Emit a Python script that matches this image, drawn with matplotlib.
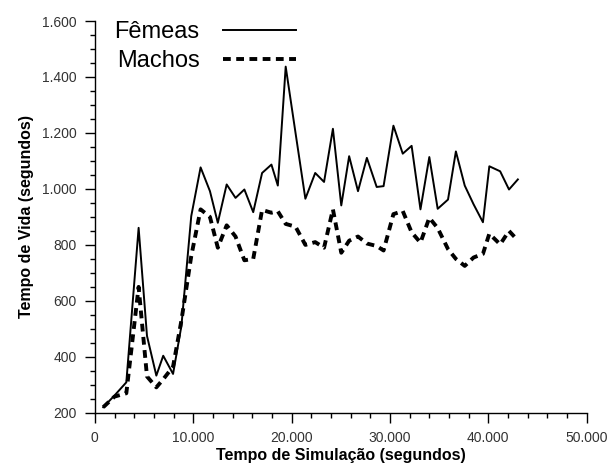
import matplotlib
matplotlib.use('Agg')
import matplotlib.pyplot as plt
from matplotlib.ticker import MultipleLocator, FuncFormatter

plt.rcParams['font.family'] = ['Liberation Sans', 'DejaVu Sans']

# tempo de simulacao (s)
tempo = [850, 2000, 3200, 4450, 5300, 6250, 6950, 7950, 8800, 9800,
         10750, 11700, 12500, 13400, 14300, 15200, 16100, 17000, 17950, 18600,
         19400, 20400, 21400, 22400, 23300, 24200, 25050, 25850, 26750, 27650,
         28650, 29350, 30350, 31300, 32200, 33100, 34000, 34850, 35900, 36700,
         37600, 38500, 39450, 40100, 41200, 42100, 43000]

femeas = [220, 262, 309, 861, 475, 333, 404, 339, 511, 903,
          1077, 992, 879, 1016, 968, 998, 917, 1057, 1087, 1012,
          1437, 1200, 965, 1057, 1025, 1215, 941, 1117, 992, 1111,
          1007, 1010, 1226, 1126, 1154, 927, 1114, 929, 962, 1134,
          1012, 945, 881, 1081, 1063, 998, 1034]

machos = [220, 258, 270, 650, 330, 291, 320, 365, 530, 760,
          927, 900, 790, 870, 830, 745, 750, 925, 915, 920,
          875, 865, 800, 810, 790, 927, 772, 815, 830, 805,
          796, 780, 910, 921, 845, 808, 897, 860, 785, 750,
          725, 755, 768, 840, 802, 850, 816]

fig = plt.figure(figsize=(6.08, 4.67), dpi=100)
ax = fig.add_axes([0.156, 0.116, 0.809, 0.839])

ax.plot(tempo, femeas, color='black', lw=1.4, label='Fêmeas')
ax.plot(tempo, machos, color='black', lw=2.8, dashes=(2.0, 1.4), label='Machos')

ax.set_xlim(0, 50000)
ax.set_ylim(200, 1600)
ax.xaxis.set_major_locator(MultipleLocator(10000))
ax.xaxis.set_minor_locator(MultipleLocator(2000))
ax.yaxis.set_major_locator(MultipleLocator(200))
ax.yaxis.set_minor_locator(MultipleLocator(50))

fmt = FuncFormatter(lambda v, p: f"{v:,.0f}".replace(",", "."))
ax.xaxis.set_major_formatter(fmt)
ax.yaxis.set_major_formatter(fmt)

for s in ['top', 'right']:
    ax.spines[s].set_visible(False)
for s in ['left', 'bottom']:
    ax.spines[s].set_linewidth(1.0)

ax.tick_params(which='major', direction='out', length=7, width=1.0,
               labelsize=10, colors='black', pad=6)
ax.tick_params(which='minor', direction='out', length=3.6, width=1.0)
for t in ax.get_xticklabels() + ax.get_yticklabels():
    t.set_color('#333333')

ax.set_xlabel('Tempo de Simulação (segundos)', fontsize=11.5, fontweight='bold', labelpad=2)
ax.set_ylabel('Tempo de Vida (segundos)', fontsize=11.5, fontweight='bold', labelpad=6)

ax.legend(loc='upper left', bbox_to_anchor=(0.04, 1.0), frameon=False,
          markerfirst=False, fontsize=17, handlelength=3.1,
          handletextpad=1.0, labelspacing=0.3, borderaxespad=0, borderpad=0)

fig.savefig('out.png', dpi=100)
